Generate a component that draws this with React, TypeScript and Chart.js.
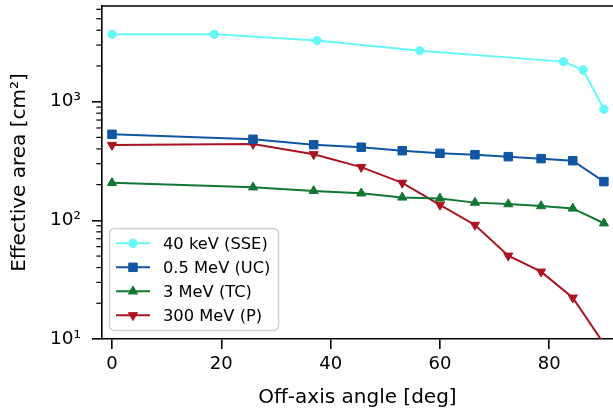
import React, { useEffect, useRef } from 'react';
import { Chart, registerables } from 'chart.js';

Chart.register(...registerables);

// ---- data ----
const anglesSSE = [0, 18.7, 37.5, 56.3, 82.6, 86.2, 90];
const areaSSE = [3700, 3700, 3270, 2690, 2175, 1850, 863];

const angles = [0, 25.8, 36.9, 45.6, 53.1, 60, 66.4, 72.5, 78.5, 84.3, 90];
const areaUC = [531, 482, 434, 413, 386, 367, 357, 344, 331, 318, 212];
const areaTC = [207, 190, 177, 169, 156, 153, 141, 137, 132, 126, 94.5];
const areaP = [431, 440, 360, 281, 207, 135, 91.4, 50.3, 36.9, 22.3, 9.1];

const seriesLabels = ['40 keV (SSE)', '0.5 MeV (UC)', '3 MeV (TC)', '300 MeV (P)'];
const seriesColors = ['#66f7f7', '#1056a3', '#117733', '#aa1420'];

const xTicks = [0, 20, 40, 60, 80];
const yMajorTicks = [10, 100, 1000];
const yTickLabels = ['10¹', '10²', '10³'];
const yMinorTicks = [
  20, 30, 40, 50, 60, 70, 80, 90,
  200, 300, 400, 500, 600, 700, 800, 900,
  2000, 3000, 4000, 5000, 6000,
];

const FONT = 'DejaVu Sans';

function drawMarker(ctx: CanvasRenderingContext2D, style: string, r: number, rot: number, x: number, y: number) {
  ctx.beginPath();
  if (style === 'circle') {
    ctx.arc(x, y, r, 0, Math.PI * 2);
  } else if (style === 'rect') {
    const s = Math.SQRT1_2 * r;
    ctx.rect(x - s, y - s, 2 * s, 2 * s);
  } else {
    let rad = (rot * Math.PI) / 180;
    for (let i = 0; i < 3; i++) {
      const px = x + Math.sin(rad) * r;
      const py = y - Math.cos(rad) * r;
      if (i === 0) ctx.moveTo(px, py);
      else ctx.lineTo(px, py);
      rad += (2 * Math.PI) / 3;
    }
    ctx.closePath();
  }
  ctx.fill();
  ctx.stroke();
}

const framePlugin = {
  id: 'frameAndLegend',
  afterDatasetsDraw(chart: any) {
    const { ctx, chartArea, scales } = chart;
    ctx.save();
    // top spine
    ctx.strokeStyle = '#000';
    ctx.lineWidth = 1.6;
    ctx.beginPath();
    ctx.moveTo(chartArea.left - 0.8, chartArea.top);
    ctx.lineTo(chartArea.right, chartArea.top);
    ctx.stroke();
    // minor ticks on y
    ctx.lineWidth = 1.2;
    const ys = scales.y;
    for (const v of yMinorTicks) {
      const py = ys.getPixelForValue(v);
      if (py < chartArea.top - 0.5 || py > chartArea.bottom + 0.5) continue;
      ctx.beginPath();
      ctx.moveTo(chartArea.left, py);
      ctx.lineTo(chartArea.left - 5.7, py);
      ctx.stroke();
    }
    // legend
    const bx = 109.5, by = 228.5, bw = 169, bh = 102, br = 5;
    ctx.beginPath();
    ctx.moveTo(bx + br, by);
    ctx.lineTo(bx + bw - br, by);
    ctx.arcTo(bx + bw, by, bx + bw, by + br, br);
    ctx.lineTo(bx + bw, by + bh - br);
    ctx.arcTo(bx + bw, by + bh, bx + bw - br, by + bh, br);
    ctx.lineTo(bx + br, by + bh);
    ctx.arcTo(bx, by + bh, bx, by + bh - br, br);
    ctx.lineTo(bx, by + br);
    ctx.arcTo(bx, by, bx + br, by, br);
    ctx.closePath();
    ctx.fillStyle = 'rgba(255,255,255,0.8)';
    ctx.fill();
    ctx.strokeStyle = '#d0d0d0';
    ctx.lineWidth = 1.5;
    ctx.stroke();

    chart.data.datasets.forEach((ds: any, i: number) => {
      const rowY = 243.3 + i * 24;
      ctx.strokeStyle = ds.borderColor;
      ctx.lineWidth = ds.borderWidth;
      ctx.beginPath();
      ctx.moveTo(116, rowY);
      ctx.lineTo(150, rowY);
      ctx.stroke();
      ctx.fillStyle = ds.pointBackgroundColor;
      ctx.strokeStyle = ds.pointBorderColor;
      ctx.lineWidth = ds.pointBorderWidth;
      drawMarker(ctx, ds.pointStyle, ds.pointRadius, ds.pointRotation || 0, 133, rowY);
      ctx.fillStyle = '#000';
      ctx.font = `16.3px "${FONT}"`;
      ctx.textBaseline = 'middle';
      ctx.textAlign = 'left';
      ctx.fillText(ds.label, 163, rowY + 1);
    });
    ctx.restore();
  },
};

function makeData(xs: number[], ys: number[]) {
  return xs.map((x, i) => ({ x, y: ys[i] }));
}

function zeroPadding(scale: any) {
  scale.paddingTop = 0;
  scale.paddingBottom = 0;
  scale.paddingLeft = 0;
  scale.paddingRight = 0;
}

export default function App() {
  const canvasRef = useRef<HTMLCanvasElement | null>(null);

  useEffect(() => {
    document.body.style.margin = '0';
    const canvas = canvasRef.current;
    if (!canvas) return;
    const common = (i: number) => ({
      label: seriesLabels[i],
      borderColor: seriesColors[i],
      backgroundColor: seriesColors[i],
      pointBackgroundColor: seriesColors[i],
      pointBorderColor: seriesColors[i],
      pointBorderWidth: 1,
      borderWidth: 2,
      showLine: true,
      tension: 0,
      clip: 0,
    });
    const chart = new Chart(canvas, {
      type: 'scatter',
      data: {
        datasets: [
          { ...common(0), data: makeData(anglesSSE, areaSSE), pointStyle: 'circle', pointRadius: 4.2 },
          { ...common(1), data: makeData(angles, areaUC), pointStyle: 'rect', pointRadius: 6.0 },
          { ...common(2), data: makeData(angles, areaTC), pointStyle: 'triangle', pointRadius: 5.3 },
          { ...common(3), data: makeData(angles, areaP), pointStyle: 'triangle', pointRotation: 180, pointRadius: 5.3 },
        ] as any,
      },
      options: {
        animation: false,
        responsive: false,
        devicePixelRatio: 1,
        layout: { autoPadding: false, padding: { left: 0, right: 0, top: 6, bottom: 0 } },
        plugins: { legend: { display: false }, tooltip: { enabled: false } },
        scales: {
          x: {
            type: 'linear',
            min: -1.83,
            max: 91.66,
            afterBuildTicks: (scale: any) => {
              scale.ticks = xTicks.map((v) => ({ value: v }));
            },
            afterFit: (scale: any) => {
              scale.height = 74;
              zeroPadding(scale);
            },
            grid: { display: true, drawOnChartArea: false, drawTicks: true, tickLength: 10, color: '#000', lineWidth: 1.6 },
            border: { display: true, color: '#000', width: 1.6 },
            ticks: { color: '#000', font: { family: FONT, size: 18 }, padding: 5, maxRotation: 0 },
            title: { display: true, text: 'Off-axis angle [deg]', color: '#000', font: { family: FONT, size: 20 }, padding: { top: 0, bottom: 3 } },
          },
          y: {
            type: 'logarithmic',
            min: 10,
            max: 6400,
            afterBuildTicks: (scale: any) => {
              scale.ticks = yMajorTicks.map((v) => ({ value: v }));
            },
            afterFit: (scale: any) => {
              scale.width = 102;
              zeroPadding(scale);
            },
            grid: { display: true, drawOnChartArea: false, drawTicks: true, tickLength: 10, color: '#000', lineWidth: 1.6 },
            border: { display: true, color: '#000', width: 1.6 },
            ticks: {
              color: '#000',
              font: { family: FONT, size: 18.5 },
              padding: 11,
              callback: (value: any) => {
                const idx = yMajorTicks.indexOf(Number(value));
                return idx >= 0 ? yTickLabels[idx] : '';
              },
            },
            title: { display: true, text: 'Effective area [cm²]', color: '#000', font: { family: FONT, size: 20 }, padding: { top: 8, bottom: 0 } },
          },
        },
      },
      plugins: [framePlugin],
    });
    return () => chart.destroy();
  }, []);

  return (
    <div style={{ width: 613, height: 413 }}>
      <canvas ref={canvasRef} width={613} height={413} style={{ display: 'block' }} />
    </div>
  );
}
